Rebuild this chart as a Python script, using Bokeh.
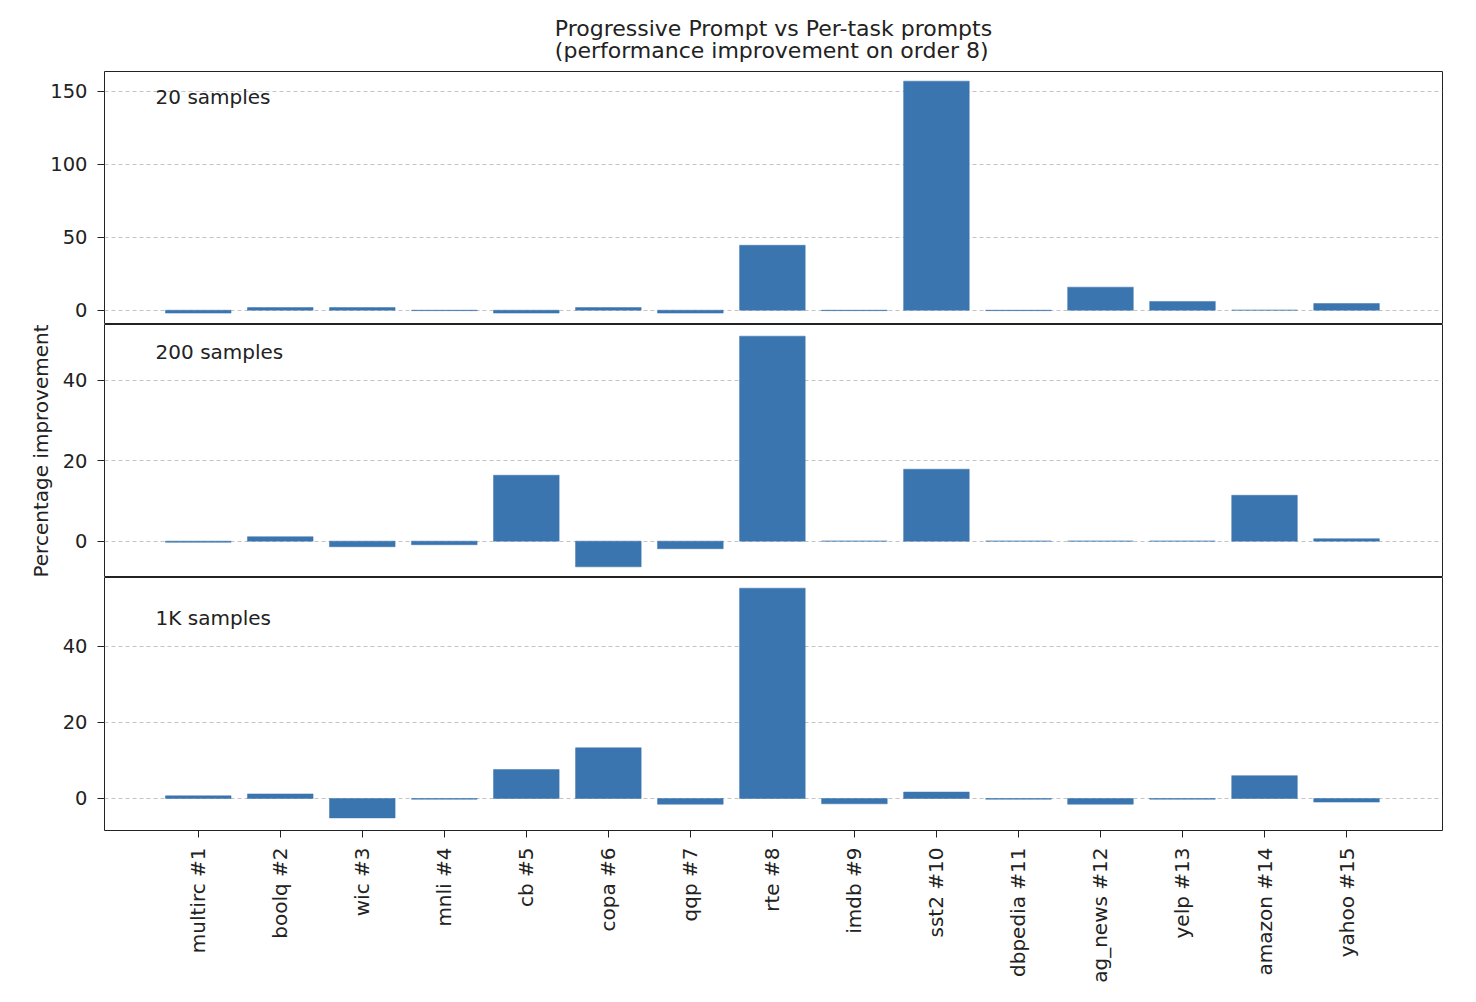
import math
from bokeh.plotting import figure
from bokeh.models import Range1d, FixedTicker, Label, Title, ColumnDataSource
from bokeh.layouts import column
from bokeh.embed import file_html
from bokeh.resources import INLINE

tasks = ["multirc #1", "boolq #2", "wic #3", "mnli #4", "cb #5", "copa #6", "qqp #7",
         "rte #8", "imdb #9", "sst2 #10", "dbpedia #11", "ag_news #12", "yelp #13",
         "amazon #14", "yahoo #15"]
imp_20 = [-2.0, 1.8, 1.8, -0.3, -2.0, 1.8, -2.0, 44.5, -0.3, 157.0, -0.3, 15.8, 6.0, 0.0, 4.6]
imp_200 = [-0.3, 1.1, -1.4, -0.9, 16.4, -6.4, -1.9, 51.0, 0.0, 17.9, 0.0, 0.0, 0.0, 11.4, 0.6]
imp_1k = [0.7, 1.2, -5.1, -0.2, 7.6, 13.3, -1.5, 55.2, -1.4, 1.7, -0.2, -1.5, -0.2, 6.0, -0.95]

panel_labels = ["20 samples", "200 samples", "1K samples"]
title_lines = ["Progressive Prompt vs Per-task prompts", "(performance improvement on order 8)"]
y_label = "Percentage improvement"

BAR = "#3a75af"
FONT = "DejaVu Sans"
TICK_PX = "19.5px"
TEXT_PX = "20px"


def make_panel(values, y_start, y_end, yticks, label, label_y, top=False, bottom=False, ylab=None):
    p = figure(frame_width=1338, frame_height=253,
               x_range=Range1d(-1.143, 15.17), y_range=Range1d(y_start, y_end),
               output_backend="svg", toolbar_location=None, title=None,
               x_axis_location="below" if bottom else None,
               min_border_left=104, min_border_right=20,
               min_border_top=71 if top else 0, min_border_bottom=0)
    src = ColumnDataSource(dict(x=list(range(len(tasks))), top=values))
    p.vbar(x="x", top="top", bottom=0, width=0.8, source=src,
           fill_color=BAR, line_color=BAR, line_width=0.5)
    p.xgrid.visible = False
    p.ygrid.grid_line_color = "#c4c4c4"
    p.ygrid.grid_line_dash = "4 3"
    p.ygrid.grid_line_width = 1
    p.outline_line_color = "#222222"
    p.outline_line_width = 1.0
    p.outline_line_alpha = 1.0

    ya = p.yaxis[0]
    ya.ticker = FixedTicker(ticks=yticks)
    ya.axis_line_color = None
    ya.major_tick_out = 7
    ya.major_tick_in = 0
    ya.minor_tick_line_color = None
    ya.major_tick_line_color = "#222222"
    ya.major_label_text_font = FONT
    ya.major_label_text_font_size = TICK_PX
    ya.major_label_text_color = "#222222"
    ya.major_label_standoff = 10
    if ylab:
        ya.axis_label = ylab
        ya.axis_label_text_font = FONT
        ya.axis_label_text_font_size = TEXT_PX
        ya.axis_label_text_font_style = "normal"
        ya.axis_label_text_color = "#222222"
        ya.axis_label_standoff = 7

    if bottom:
        xa = p.xaxis[0]
        xa.ticker = FixedTicker(ticks=list(range(len(tasks))))
        xa.major_label_overrides = {i: t for i, t in enumerate(tasks)}
        xa.major_label_orientation = math.pi / 2
        xa.axis_line_color = None
        xa.major_tick_out = 7
        xa.major_tick_in = 0
        xa.minor_tick_line_color = None
        xa.major_tick_line_color = "#222222"
        xa.major_label_text_font = FONT
        xa.major_label_text_font_size = TEXT_PX
        xa.major_label_text_color = "#222222"
        xa.major_label_standoff = 10

    p.add_layout(Label(x=-0.52, y=label_y, text=label, text_baseline="middle",
                       text_align="left", text_font=FONT, text_font_size=TEXT_PX,
                       text_color="#222222"))

    if top:
        p.add_layout(Title(text="\n".join(title_lines), align="center", text_font=FONT,
                           text_font_size="22px", text_font_style="normal",
                           text_line_height=0.9,
                           text_color="#222222", standoff=17), "above")
    return p


p1 = make_panel(imp_20, -9.8, 163.6, [0, 50, 100, 150], panel_labels[0], 146.4, top=True)
p2 = make_panel(imp_200, -9.05, 53.9, [0, 20, 40], panel_labels[1], 47.1, ylab=y_label)
p3 = make_panel(imp_1k, -8.4, 58.0, [0, 20, 40], panel_labels[2], 47.3, bottom=True)

layout = column(p1, p2, p3, spacing=0)
open("out.html", "w").write(file_html(layout, INLINE))
